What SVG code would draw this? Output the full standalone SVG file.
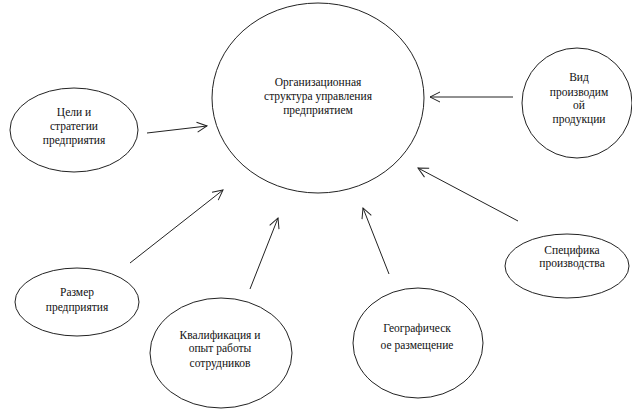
<svg xmlns="http://www.w3.org/2000/svg" width="632" height="409" viewBox="0 0 632 409">
<defs>
<style>
.n{fill:#fff;stroke:#222;stroke-width:1}
.t{font-family:"Liberation Serif","DejaVu Serif",serif;font-size:11.5px;fill:#111;text-anchor:middle}
.c{stroke:#222;stroke-width:1;fill:none;marker-end:url(#ah)}
</style>
<marker id="ah" viewBox="0 0 12 12" refX="11" refY="6" markerWidth="12" markerHeight="12" markerUnits="userSpaceOnUse" orient="auto">
<path d="M1,1 L11,6 L1,11" fill="none" stroke="#222" stroke-width="1"/>
</marker>
</defs>
<rect width="632" height="409" fill="#fff"/>
<g id="connectors">
<line class="c" x1="147" y1="133" x2="207" y2="126"/>
<line class="c" x1="513" y1="97" x2="430" y2="97"/>
<line class="c" x1="518" y1="221" x2="418" y2="168"/>
<line class="c" x1="130" y1="263" x2="223" y2="190"/>
<line class="c" x1="250" y1="289" x2="278" y2="218"/>
<line class="c" x1="389" y1="274" x2="363" y2="208"/>
</g>
<g id="center">
<ellipse class="n" cx="318" cy="98" rx="106" ry="95"/>
<text class="t" x="318" y="86">Организационная</text>
<text class="t" x="318" y="100">структура управления</text>
<text class="t" x="318" y="114">предприятием</text>
</g>
<g id="goals">
<ellipse class="n" cx="74" cy="130" rx="64" ry="42"/>
<text class="t" x="74" y="116">Цели и</text>
<text class="t" x="74" y="130">стратегии</text>
<text class="t" x="74" y="144">предприятия</text>
</g>
<g id="product">
<ellipse class="n" cx="577" cy="103" rx="55" ry="55"/>
<text class="t" x="579" y="81">Вид</text>
<text class="t" x="579" y="96">производим</text>
<text class="t" x="579" y="109">ой</text>
<text class="t" x="579" y="123">продукции</text>
</g>
<g id="specifics">
<ellipse class="n" cx="567" cy="266" rx="62" ry="32"/>
<text class="t" x="572" y="254">Специфика</text>
<text class="t" x="572" y="267">производства</text>
</g>
<g id="size">
<ellipse class="n" cx="77" cy="302" rx="62" ry="34"/>
<text class="t" x="77" y="296">Размер</text>
<text class="t" x="77" y="311">предприятия</text>
</g>
<g id="qualification">
<ellipse class="n" cx="221" cy="353" rx="71" ry="55"/>
<text class="t" x="220" y="339">Квалификация и</text>
<text class="t" x="220" y="352">опыт работы</text>
<text class="t" x="220" y="367">сотрудников</text>
</g>
<g id="geo">
<ellipse class="n" cx="418" cy="343" rx="65" ry="55"/>
<text class="t" x="417" y="332">Географическ</text>
<text class="t" x="417" y="349">ое размещение</text>
</g>
</svg>
